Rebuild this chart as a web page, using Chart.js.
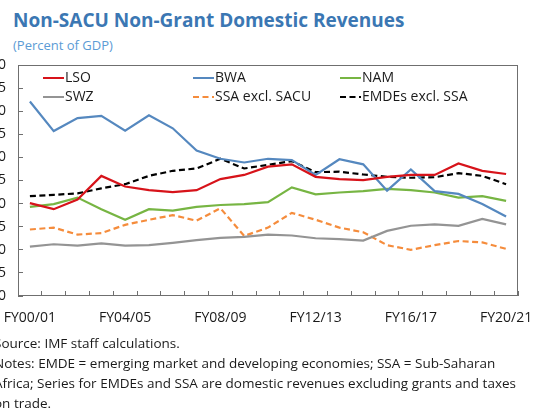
<!DOCTYPE html>
<html><head><meta charset="utf-8">
<script src="https://cdn.jsdelivr.net/npm/chart.js@4"></script>
<style>
html,body{margin:0;padding:0;width:540px;height:409px;overflow:hidden;background:#fff;font-family:'Open Sans',sans-serif;}
#title{position:absolute;left:13px;top:7px;font-size:19px;font-weight:700;color:#3b77b3;white-space:nowrap;}
#sub{position:absolute;left:13px;top:36px;font-size:13px;color:#5b9bd5;white-space:nowrap;}
#wrap{position:absolute;left:-10px;top:55px;width:540px;height:280px;}
#notes{position:absolute;left:-6px;top:333px;font-size:13.5px;line-height:20px;color:#1a1a1a;white-space:nowrap;}
</style></head>
<body>
<div id="title">Non-SACU Non-Grant Domestic Revenues</div>
<div id="sub">(Percent of GDP)</div>
<div id="wrap"><canvas id="c" width="540" height="280"></canvas></div>
<div id="notes">Source: IMF staff calculations.<br>Notes: EMDE = emerging market and developing economies; SSA = Sub-Saharan<br>Africa; Series for EMDEs and SSA are domestic revenues excluding grants and taxes<br>on trade.</div>
<script>
const categories = ['FY00/01','FY01/02','FY02/03','FY03/04','FY04/05','FY05/06','FY06/07','FY07/08','FY08/09','FY09/10','FY10/11','FY11/12','FY12/13','FY13/14','FY14/15','FY15/16','FY16/17','FY17/18','FY18/19','FY19/20','FY20/21'];
const shownLabels = ['FY00/01','FY04/05','FY08/09','FY12/13','FY16/17','FY20/21'];
const yTicks = [0,5,10,15,20,25,30,35,40,45,50];

const LSO  = [20.1,18.8,20.9,26.0,23.7,22.9,22.5,22.9,25.3,26.2,28.0,28.5,25.8,25.3,25.1,25.8,26.2,26.2,28.7,27.1,26.4];
const BWA  = [42.1,35.7,38.5,39.0,35.8,39.1,36.3,31.5,29.7,28.9,29.7,29.4,26.2,29.6,28.5,22.8,27.4,22.7,22.1,19.9,17.2];
const NAM  = [19.3,19.9,21.3,18.8,16.5,18.8,18.5,19.3,19.7,19.9,20.3,23.5,22.0,22.4,22.7,23.2,22.9,22.4,21.3,21.6,20.6];
const SWZ  = [10.7,11.2,10.9,11.4,10.9,11.0,11.5,12.1,12.6,12.8,13.3,13.1,12.5,12.3,12.0,14.1,15.2,15.5,15.2,16.7,15.5];
const SSA  = [14.4,14.8,13.3,13.6,15.4,16.5,17.5,16.3,19.0,13.0,14.8,18.0,16.5,14.8,13.8,11.0,10.0,11.0,11.9,11.6,10.2];
const EMDE = [21.6,21.9,22.2,23.3,24.2,26.0,27.1,27.6,29.7,27.6,28.4,29.2,26.8,26.9,26.3,25.8,25.6,25.7,26.6,26.0,24.2];

Chart.defaults.font.family = "'Open Sans', sans-serif";
Chart.defaults.font.size = 14;
Chart.defaults.color = '#1a1a1a';

function ds(label, data, color, dash){
  return {label, data, borderColor: color, backgroundColor: color, borderWidth: 2.2,
    borderDash: dash || [], pointRadius: 0, pointHoverRadius: 0, tension: 0, fill: false};
}

const legendPlugin = {
  id: 'inLegend',
  afterDatasetsDraw(chart){
    const {ctx, chartArea: a} = chart;
    const cols = [25, 175, 322], rows = [13, 32];
    chart.data.datasets.forEach((d, i) => {
      const x = a.left + cols[i % 3], y = a.top + rows[Math.floor(i / 3)];
      ctx.save();
      ctx.strokeStyle = d.borderColor; ctx.lineWidth = 2; ctx.setLineDash(d.borderDash || []);
      ctx.beginPath(); ctx.moveTo(x, y); ctx.lineTo(x + 21, y); ctx.stroke();
      ctx.setLineDash([]);
      ctx.fillStyle = '#1a1a1a'; ctx.font = "14px 'Open Sans', sans-serif"; ctx.textBaseline = 'middle';
      ctx.fillText(d.label, x + 22, y);
      ctx.restore();
    });
  }
};
const framePlugin = {
  id: 'frame',
  afterDraw(chart){
    const {ctx, chartArea: a} = chart;
    ctx.save();
    ctx.strokeStyle = '#6f6f6f'; ctx.lineWidth = 1;
    ctx.strokeRect(Math.round(a.left) + 0.5, Math.round(a.top) + 0.5, Math.round(a.right - a.left) - 1, Math.round(a.bottom - a.top) - 1);
    ctx.restore();
  }
};

new Chart(document.getElementById('c'), {
  type: 'line',
  data: {
    labels: categories,
    datasets: [
      ds('LSO', LSO, '#d7131a'),
      ds('BWA', BWA, '#5588bf'),
      ds('NAM', NAM, '#77b543'),
      ds('SWZ', SWZ, '#949494'),
      ds('SSA excl. SACU', SSA, '#f58c3c', [6, 3.5]),
      ds('EMDEs excl. SSA', EMDE, '#000000', [6, 3.5])
    ]
  },
  options: {
    responsive: false, animation: false, devicePixelRatio: 1,
    layout: {padding: {left: 0, right: 12, top: 10, bottom: 0}, autoPadding: false},
    plugins: {legend: {display: false}, tooltip: {enabled: false}},
    scales: {
      x: {
        offset: true,
        border: {display: false},
        grid: {offset: true, drawOnChartArea: false, drawTicks: true, tickLength: -5, color: '#6f6f6f'},
        ticks: {autoSkip: false, maxRotation: 0, minRotation: 0, padding: 19, color: '#1a1a1a',
          callback: (v, i) => shownLabels.includes(categories[i]) ? categories[i] : ''},
        afterFit: s => { s.height = 39; s.paddingLeft = 0; s.paddingRight = 0; }
      },
      y: {
        min: 0, max: 50,
        border: {display: false},
        grid: {drawOnChartArea: false, drawTicks: true, tickLength: -5, color: '#6f6f6f'},
        ticks: {stepSize: 5, padding: 17, color: '#1a1a1a'},
        afterBuildTicks: s => { s.ticks = yTicks.map(v => ({value: v})); },
        afterFit: s => { s.width = 28; s.paddingTop = 0; s.paddingBottom = 0; }
      }
    }
  },
  plugins: [legendPlugin, framePlugin]
});
</script>
</body></html>
